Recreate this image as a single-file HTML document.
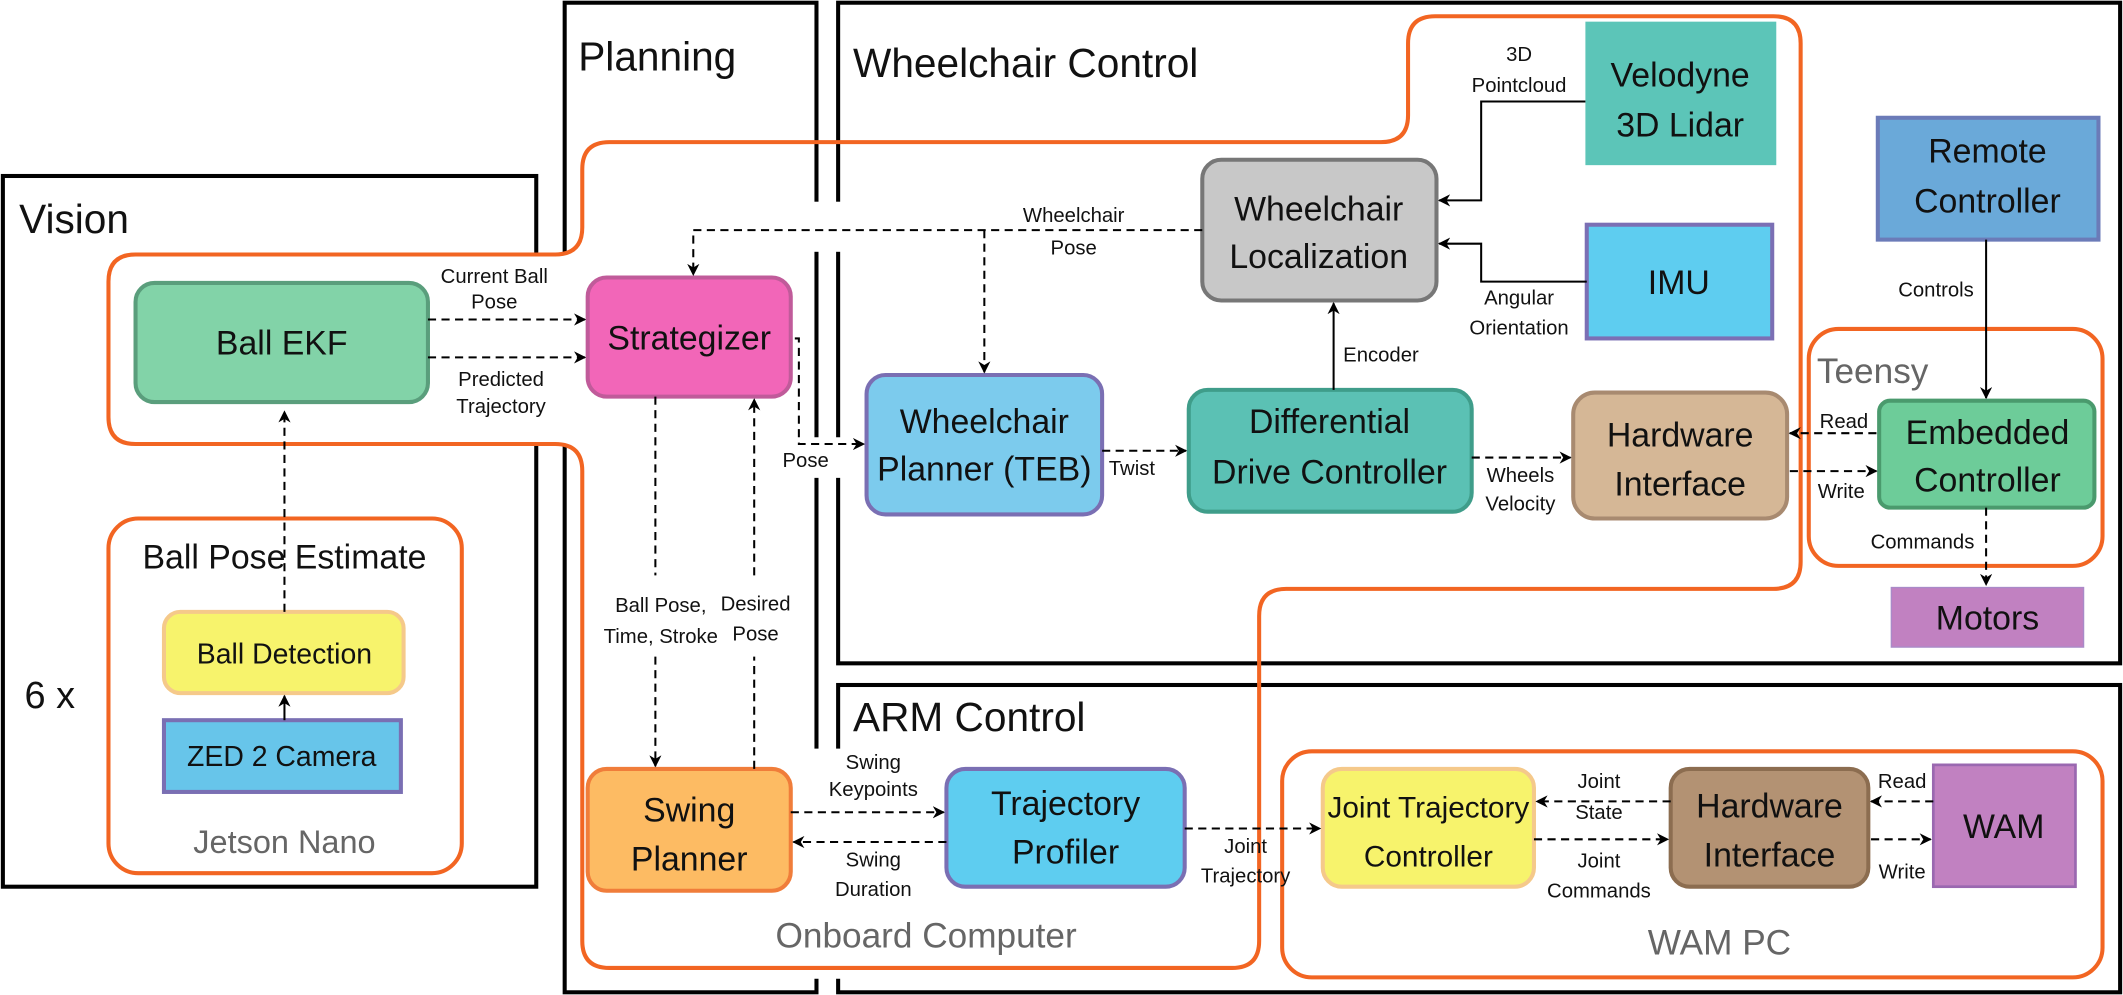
<!DOCTYPE html>
<html><head><meta charset="utf-8"><style>
html,body{margin:0;padding:0;background:#fff;}
svg{display:block;}
text{font-family:"Liberation Sans Narrow","Liberation Sans",sans-serif;fill:#111;}
.s{font-size:15px;text-anchor:middle;}
.n{font-size:25px;text-anchor:middle;}
.t{font-size:30px;font-family:"Liberation Sans",sans-serif;}
.g{fill:#666;text-anchor:middle;font-size:26px;}
.d{stroke:#000;stroke-width:1.5;fill:none;stroke-dasharray:6,4;}
.l{stroke:#000;stroke-width:1.5;fill:none;}
.o{stroke:#f26522;stroke-width:3;fill:none;}
.b{stroke:#000;stroke-width:3;fill:none;}
</style></head><body>
<svg width="2123" height="995" viewBox="0 0 1568 735" xmlns="http://www.w3.org/2000/svg">
<defs><marker id="a" viewBox="0 0 10 10" refX="9" refY="5" markerWidth="9" markerHeight="9" orient="auto" markerUnits="userSpaceOnUse"><path d="M0,0 L10,5 L0,10 L3,5 Z" fill="#000"/></marker></defs>
<!-- black group boxes -->
<rect class="b" x="2" y="130" width="394" height="525"/>
<rect class="b" x="417" y="2" width="186" height="731"/>
<rect class="b" x="619" y="2" width="947" height="488"/>
<rect class="b" x="619" y="506" width="947" height="227"/>
<!-- gaps in black lines -->
<g fill="#fff">
<rect x="390" y="188" width="32" height="140"/>
<rect x="598" y="149" width="26" height="37"/>
<rect x="598" y="323" width="26" height="30"/>
<rect x="598" y="553" width="26" height="170"/>
</g>
<!-- orange groups -->
<path class="o" d="M100 188 L410 188 Q430 188 430 168 L430 125 Q430 105 450 105 L1020 105 Q1040 105 1040 85 L1040 32 Q1040 12 1060 12 L1310 12 Q1330 12 1330 32 L1330 415 Q1330 435 1310 435 L950 435 Q930 435 930 455 L930 695 Q930 715 910 715 L450 715 Q430 715 430 695 L430 348 Q430 328 410 328 L100 328 Q80 328 80 308 L80 208 Q80 188 100 188 Z"/>
<rect class="o" x="80" y="383" width="261" height="262" rx="22"/>
<rect class="o" x="1336" y="243" width="217" height="175" rx="22" style="fill:#fff"/>
<rect class="o" x="947" y="555" width="606" height="167" rx="22"/>
<!-- titles -->
<text class="t" x="14" y="172">Vision</text>
<text class="t" x="427" y="52">Planning</text>
<text class="t" x="630" y="57">Wheelchair Control</text>
<text class="t" x="630" y="540">ARM Control</text>
<text class="t" x="18" y="523" style="font-size:28px">6 x</text>
<text class="g" x="210" y="630" style="font-size:24px">Jetson Nano</text>
<text x="210" y="420" style="font-size:25px;text-anchor:middle">Ball Pose Estimate</text>
<text class="g" x="684" y="700">Onboard Computer</text>
<text class="g" x="1270" y="705">WAM PC</text>
<text class="g" x="1342" y="283" style="text-anchor:start">Teensy</text>
<!-- nodes -->
<rect x="100" y="209" width="216" height="88" rx="14" fill="#82d3a8" stroke="#5a9e7c" stroke-width="3"/>
<text class="n" x="208" y="262">Ball EKF</text>
<rect x="121" y="452" width="177" height="60" rx="12" fill="#f7f36c" stroke="#f5c98a" stroke-width="3"/>
<text class="n" x="210" y="490" style="font-size:21px">Ball Detection</text>
<rect x="121" y="532" width="175" height="53" fill="#67c5ea" stroke="#7a6fb3" stroke-width="3"/>
<text class="n" x="208" y="566" style="font-size:21px">ZED 2 Camera</text>
<rect x="434" y="205" width="150" height="88" rx="14" fill="#f266b8" stroke="#c05b9a" stroke-width="3"/>
<text class="n" x="509" y="258">Strategizer</text>
<rect x="888" y="118" width="173" height="104" rx="14" fill="#c8c8c8" stroke="#777" stroke-width="3"/>
<text class="n" x="974" y="163">Wheelchair</text><text class="n" x="974" y="198">Localization</text>
<rect x="1171" y="16" width="141" height="106" fill="#5cc5b8"/>
<text class="n" x="1241" y="64">Velodyne</text><text class="n" x="1241" y="101">3D Lidar</text>
<rect x="1172" y="166" width="137" height="84" fill="#5ecdf0" stroke="#7b6fb4" stroke-width="3"/>
<text class="n" x="1240" y="217">IMU</text>
<rect x="1387" y="87" width="163" height="90" fill="#6aa9d9" stroke="#6b7bb8" stroke-width="3"/>
<text class="n" x="1468" y="120">Remote</text><text class="n" x="1468" y="157">Controller</text>
<rect x="640" y="277" width="174" height="103" rx="14" fill="#7ccbed" stroke="#7a6fb3" stroke-width="3"/>
<text class="n" x="727" y="320">Wheelchair</text><text class="n" x="727" y="355">Planner (TEB)</text>
<rect x="878" y="288" width="209" height="90" rx="14" fill="#5bc1b4" stroke="#3f9d8a" stroke-width="3"/>
<text class="n" x="982" y="320">Differential</text><text class="n" x="982" y="357">Drive Controller</text>
<rect x="1162" y="290" width="158" height="93" rx="16" fill="#d5b796" stroke="#a88a70" stroke-width="3"/>
<text class="n" x="1241" y="330">Hardware</text><text class="n" x="1241" y="366">Interface</text>
<rect x="1388" y="296" width="159" height="79" rx="8" fill="#6dcc99" stroke="#4a9a6d" stroke-width="3"/>
<text class="n" x="1468" y="328">Embedded</text><text class="n" x="1468" y="363">Controller</text>
<rect x="1397" y="434" width="142" height="44" fill="#c181c1" stroke="#a98ac8" stroke-width="1"/>
<text class="n" x="1468" y="465">Motors</text>
<rect x="434" y="568" width="150" height="90" rx="14" fill="#fdbb63" stroke="#f07d3a" stroke-width="3"/>
<text class="n" x="509" y="607">Swing</text><text class="n" x="509" y="643">Planner</text>
<rect x="699" y="568" width="176" height="87" rx="14" fill="#5ecdf0" stroke="#7a6fb3" stroke-width="3"/>
<text class="n" x="787" y="602">Trajectory</text><text class="n" x="787" y="638">Profiler</text>
<rect x="977" y="568" width="156" height="87" rx="14" fill="#f7f36c" stroke="#f5c98a" stroke-width="3"/>
<text class="n" x="1055" y="604" style="font-size:22px">Joint Trajectory</text><text class="n" x="1055" y="640" style="font-size:22px">Controller</text>
<rect x="1234" y="568" width="146" height="87" rx="14" fill="#b39273" stroke="#8c6d50" stroke-width="3"/>
<text class="n" x="1307" y="604">Hardware</text><text class="n" x="1307" y="640">Interface</text>
<rect x="1428" y="565" width="105" height="90" fill="#c181c1" stroke="#9a68b0" stroke-width="2"/>
<text class="n" x="1480" y="619">WAM</text>
<!-- connectors -->
<path class="d" d="M316 236 L432 236" marker-end="url(#a)"/>
<path class="d" d="M316 264 L432 264" marker-end="url(#a)"/>
<path class="d" d="M210 452 L210 304" marker-end="url(#a)"/>
<path class="l" d="M210 532 L210 514" marker-end="url(#a)"/>
<path class="d" d="M888 170 L512 170 L512 203" marker-end="url(#a)"/>
<path class="d" d="M727 170 L727 275" marker-end="url(#a)"/>
<path class="l" d="M1171 75 L1094 75 L1094 148 L1063 148" marker-end="url(#a)"/>
<path class="l" d="M1172 208 L1094 208 L1094 180 L1063 180" marker-end="url(#a)"/>
<path class="l" d="M985 288 L985 224" marker-end="url(#a)"/>
<path class="l" d="M1467 177 L1467 294" marker-end="url(#a)"/>
<path class="d" d="M587 250 L590 250 L590 328 L638 328" marker-end="url(#a)"/>
<path class="d" d="M814 333 L876 333" marker-end="url(#a)"/>
<path class="d" d="M1087 338 L1160 338" marker-end="url(#a)"/>
<path class="d" d="M1386 320 L1322 320" marker-end="url(#a)"/>
<path class="d" d="M1322 348 L1386 348" marker-end="url(#a)"/>
<path class="d" d="M1467 375 L1467 432" marker-end="url(#a)"/>
<path class="d" d="M484 293 L484 425 M484 485 L484 566" marker-end="url(#a)"/>
<path class="d" d="M557 568 L557 485 M557 425 L557 295" marker-end="url(#a)"/>
<path class="d" d="M584 600 L697 600" marker-end="url(#a)"/>
<path class="d" d="M699 622 L586 622" marker-end="url(#a)"/>
<path class="d" d="M875 612 L975 612" marker-end="url(#a)"/>
<path class="d" d="M1234 592 L1135 592" marker-end="url(#a)"/>
<path class="d" d="M1133 620 L1232 620" marker-end="url(#a)"/>
<path class="d" d="M1428 592 L1382 592" marker-end="url(#a)"/>
<path class="d" d="M1382 620 L1426 620" marker-end="url(#a)"/>
<!-- connector labels -->
<text class="s" x="365" y="209">Current Ball</text><text class="s" x="365" y="228">Pose</text>
<text class="s" x="370" y="285">Predicted</text><text class="s" x="370" y="305">Trajectory</text>
<text class="s" x="793" y="164">Wheelchair</text><text class="s" x="793" y="188">Pose</text>
<text class="s" x="1122" y="45">3D</text><text class="s" x="1122" y="68">Pointcloud</text>
<text class="s" x="1122" y="225">Angular</text><text class="s" x="1122" y="247">Orientation</text>
<text class="s" x="1020" y="267">Encoder</text>
<text class="s" x="1430" y="219">Controls</text>
<text class="s" x="595" y="345">Pose</text>
<text class="s" x="836" y="351">Twist</text>
<text class="s" x="1123" y="356">Wheels</text><text class="s" x="1123" y="377">Velocity</text>
<text class="s" x="1362" y="316">Read</text>
<text class="s" x="1360" y="368">Write</text>
<text class="s" x="1420" y="405">Commands</text>
<text class="s" x="488" y="452">Ball Pose,</text><text class="s" x="488" y="475">Time, Stroke</text>
<text class="s" x="558" y="451">Desired</text><text class="s" x="558" y="473">Pose</text>
<text class="s" x="645" y="568">Swing</text><text class="s" x="645" y="588">Keypoints</text>
<text class="s" x="645" y="640">Swing</text><text class="s" x="645" y="662">Duration</text>
<text class="s" x="920" y="630">Joint</text><text class="s" x="920" y="652">Trajectory</text>
<text class="s" x="1181" y="582">Joint</text><text class="s" x="1181" y="605">State</text>
<text class="s" x="1181" y="641">Joint</text><text class="s" x="1181" y="663">Commands</text>
<text class="s" x="1405" y="582">Read</text>
<text class="s" x="1405" y="649">Write</text>
</svg>
</body></html>
